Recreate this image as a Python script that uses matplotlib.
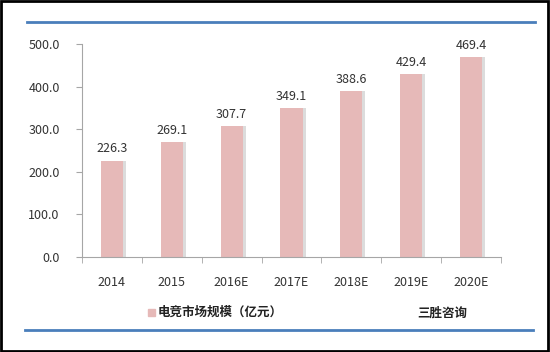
import matplotlib
matplotlib.use('Agg')
import matplotlib.pyplot as plt
from matplotlib.lines import Line2D
from matplotlib.patches import Rectangle
import numpy as np

plt.rcParams['font.family'] = ['Noto Sans CJK SC', 'DejaVu Sans']

years = ['2014', '2015', '2016E', '2017E', '2018E', '2019E', '2020E']
market = [226.3, 269.1, 307.7, 349.1, 388.6, 429.4, 469.4]
series_name = '电竞市场规模（亿元）'
source = '三胜咨询'

fig = plt.figure(figsize=(5.5, 3.52), dpi=100)
ax = fig.add_axes([0.149, 0.270, 0.762, 0.605])

x = np.arange(len(years))
# soft shadow behind the bars, like the excel look
ax.bar(x + 0.05, market, width=0.37, color='#dcdcdc', zorder=1)
bars = ax.bar(x, market, width=0.37, color='#e6b9b8', zorder=2)
for xi, v in zip(x, market):
    ax.text(xi, v + 12, f'{v:.1f}', ha='center', va='bottom', fontsize=9, color='#333333')

ax.set_xlim(-0.5, len(years) - 0.5)
ax.set_ylim(0, 500)
ax.set_yticks(np.arange(0, 501, 100))
ax.set_yticklabels([f'{v:.1f}' for v in np.arange(0, 501, 100)])
ax.set_xticks(x)
ax.set_xticklabels(years)
ax.set_xticks(np.arange(-0.5, len(years)), minor=True)
ax.tick_params(axis='x', which='major', length=0, pad=14, labelsize=9, labelcolor='#333333')
ax.tick_params(axis='x', which='minor', length=4, color='#a6a6a6', direction='out')
ax.tick_params(axis='y', length=4, color='#a6a6a6', pad=12, labelsize=9, labelcolor='#333333')
for s in ['top', 'right']:
    ax.spines[s].set_visible(False)
for s in ['left', 'bottom']:
    ax.spines[s].set_color('#a6a6a6')

# legend + source
fig.patches.append(Rectangle((148 / 550, 1 - 316 / 352), 7 / 550, 7 / 352,
                             transform=fig.transFigure, color='#e6b9b8'))
fig.text(158 / 550, 1 - 312 / 352, series_name, fontsize=9, fontweight='bold',
         color='#222222', va='center', ha='left')
fig.text(417 / 550, 1 - 313 / 352, source, fontsize=9, fontweight='bold',
         color='#222222', va='center', ha='left')

# blue rules top/bottom
fig.add_artist(Line2D([27 / 550, 535 / 550], [1 - 22 / 352, 1 - 22 / 352],
                      transform=fig.transFigure, color='#4a7ebb', lw=2))
fig.add_artist(Line2D([25 / 550, 533 / 550], [1 - 330 / 352, 1 - 330 / 352],
                      transform=fig.transFigure, color='#4a7ebb', lw=2))
# outer frame
fig.patches.append(Rectangle((0.002, 0.003), 0.995, 0.994, transform=fig.transFigure,
                             fill=False, edgecolor='black', lw=2))

fig.savefig('out.png', dpi=100)
